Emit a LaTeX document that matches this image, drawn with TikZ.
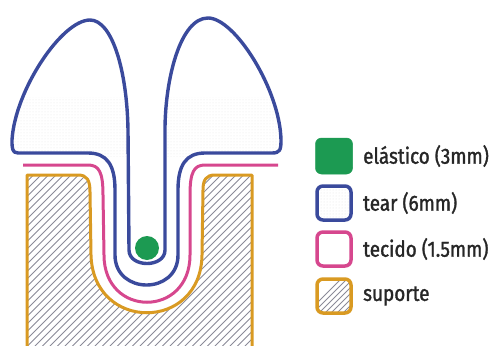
\documentclass[tikz,border=0pt]{standalone}
\usepackage{fontspec}
\usetikzlibrary{patterns}
\newfontfamily\legendfont{Fira Sans}[FakeStretch=0.86,FakeBold=1.4]

\definecolor{tearblue}{HTML}{3A4A9C}
\definecolor{tecidopink}{HTML}{D6478E}
\definecolor{suportegold}{HTML}{D99A22}
\definecolor{elasticgreen}{HTML}{1C9A52}
\definecolor{hatchgrey}{HTML}{8A8A98}

\tikzset{
  tearline/.style={draw=tearblue, line width=3.4pt, line join=round, line cap=round},
  tecidoline/.style={draw=tecidopink, line width=3pt, line join=round},
  suporteline/.style={draw=suportegold, line width=3pt, line join=round},
  swatch/.style={rounded corners=6pt, line width=3.5pt},
  legendtext/.style={anchor=west, inner sep=0pt, font=\legendfont\fontsize{22}{24}\selectfont, text=black!85},
}

% cross-section outlines, in pixel-like units (y grows downward)
\def\tearpath{(18,153) .. controls (12,153) and (12,148) .. (12,140)
  .. controls (15,90) and (62,20) .. (90,20)
  .. controls (112,20) and (127,70) .. (128,130)
  -- (129,250)
  .. controls (129,268) and (165,268) .. (165,250)
  -- (165,130)
  .. controls (165,80) and (180,18) .. (208,18)
  .. controls (235,18) and (280,90) .. (281,140)
  .. controls (281,150) and (280,153) .. (272,153)
  -- (205,153)
  .. controls (186,153) and (178,165) .. (178,190)
  -- (178,255)
  .. controls (178,295) and (115,295) .. (115,255)
  -- (115,190)
  .. controls (115,165) and (107,153) .. (88,153)
  -- cycle}
\def\suportepath{(27,346) -- (27,175) -- (78,175)
  .. controls (87,175) and (90,180) .. (90,192)
  -- (91,255)
  .. controls (93,332) and (201,332) .. (202,255)
  -- (203,190)
  .. controls (203,180) and (206,175) .. (215,175)
  -- (252,175) -- (252,346)}

\begin{document}
\begin{tikzpicture}[x=1pt,y=-1pt]
\useasboundingbox (0,0) rectangle (491,346);

% support block: hatching clipped to its outline
\begin{scope}
  \clip \suportepath -- cycle;
  \foreach \k in {-400,-392.5,...,260}
    \draw[hatchgrey, line width=0.8pt] (\k,346) -- (\k+346,0);
\end{scope}
\draw[suporteline] \suportepath;

% tissue layer
\draw[tecidoline] (23,165) -- (88,165)
  .. controls (99,165) and (103,172) .. (103,195)
  -- (104,255)
  .. controls (104,318) and (190,318) .. (190,255)
  -- (190,195)
  .. controls (190,172) and (194,165) .. (205,165)
  -- (278,165);

% tear membrane with faint dotted texture in the lobes
\begin{scope}
  \clip \tearpath;
  \fill[pattern=dots, pattern color=black!10] (0,97) rectangle (300,156);
\end{scope}
\path[tearline] \tearpath;

% elastic cord
\node[circle, fill=elasticgreen, minimum size=24pt, inner sep=0pt] (cord) at (147,248) {};

% legend
\node[swatch, fill=elasticgreen, minimum width=37pt, minimum height=36pt, draw=elasticgreen, line width=0.5pt] (sw1) at (334,156) {};
\node[legendtext] (t1) at (363,156) {elástico (3mm)};

\node[swatch, draw=tearblue, pattern=dots, pattern color=black!12, minimum width=34pt, minimum height=34pt] (sw2) at (334,203) {};
\node[legendtext] (t2) at (363,203) {tear (6mm)};

\node[swatch, draw=tecidopink, fill=white, minimum width=34pt, minimum height=34pt] (sw3) at (334,249) {};
\node[legendtext] (t3) at (363,249) {tecido (1.5mm)};

\begin{scope}
  \clip[rounded corners=6pt] (317,279) rectangle (351,313);
  \foreach \k in {300,306,...,360}
    \draw[hatchgrey, line width=0.8pt] (\k,320) -- (\k+40,280);
\end{scope}
\node[swatch, draw=suportegold, minimum width=34pt, minimum height=34pt] (sw4) at (334,296) {};
\node[legendtext] (t4) at (363,296) {suporte};
\end{tikzpicture}
\end{document}
